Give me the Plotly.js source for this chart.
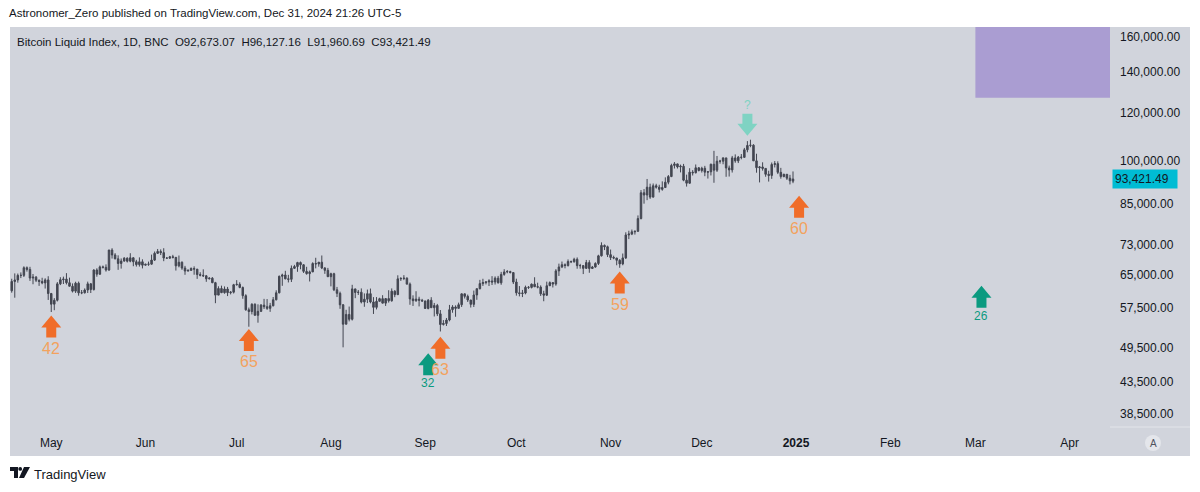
<!DOCTYPE html>
<html><head><meta charset="utf-8">
<script src="https://cdn.plot.ly/plotly-3.0.1.min.js"></script>
<style>html,body{margin:0;padding:0;background:#fff}#chart{width:1200px;height:492px}</style>
</head><body><div id="chart"></div>
<script>
// ---------- DATA (prices in thousands of USD, one candle per day from startDate) ----------
const startDate = '2024-04-18';
const openK = [
  // Apr 18-30
  61.28,63.47,63.82,64.94,64.94,66.84,66.41,64.29,64.50,63.77,63.46,63.12,63.84,
  // May
  60.64,58.25,59.12,62.89,63.89,64.03,63.16,62.33,61.19,63.05,60.79,60.82,61.45,62.90,61.55,66.27,65.23,67.05,66.94,66.27,71.45,70.14,69.12,67.93,68.54,69.29,68.51,69.39,68.36,67.63,68.35,
  // Jun
  67.49,67.71,67.75,68.80,70.57,71.08,70.76,69.34,69.30,69.65,69.51,67.32,68.24,66.76,66.01,66.19,66.64,66.49,65.14,64.96,64.83,64.10,64.25,63.18,60.28,61.80,60.84,61.68,60.84,60.95,
  // Jul
  62.68,62.78,62.04,60.15,57.03,56.66,58.23,55.86,56.70,58.04,57.70,57.34,57.90,59.22,60.80,64.72,65.04,64.09,63.98,66.69,67.14,68.16,67.58,65.93,65.37,65.80,67.91,67.81,68.25,66.78,66.19,
  // Aug
  64.62,65.35,61.50,60.68,58.11,54.02,56.04,55.03,61.71,60.88,60.94,58.72,59.35,60.61,58.74,57.56,58.88,59.48,58.48,59.49,59.01,61.18,60.38,64.09,64.18,64.25,62.83,59.42,59.03,59.37,59.12,
  // Sep
  58.97,57.32,59.13,57.48,57.97,56.16,53.95,54.16,54.87,57.05,57.64,57.34,58.13,60.57,60.00,59.18,58.21,60.31,61.76,62.95,63.20,63.35,63.58,63.34,64.26,63.14,65.18,65.79,65.89,65.63,
  // Oct
  63.33,60.80,60.65,60.75,62.08,62.06,62.82,62.22,62.13,60.58,60.27,62.45,63.19,62.85,66.05,67.04,67.61,67.40,68.42,68.36,69.00,67.37,67.38,66.68,68.16,66.64,67.01,67.93,69.91,72.72,72.34,
  // Nov
  70.22,69.48,69.34,68.75,67.81,69.36,75.64,75.90,76.54,76.70,80.47,88.70,87.95,90.58,87.25,91.07,90.59,89.85,90.46,92.29,94.29,98.32,98.90,97.78,98.02,93.01,91.95,95.86,95.65,97.46,
  // Dec
  96.45,97.28,95.87,96.00,98.77,96.59,99.92,99.92,101.17,97.39,96.68,101.17,100.04,101.46,101.37,104.30,106.03,106.14,100.04,97.49,97.76,97.23,95.10,94.69,98.69,99.00,95.80,94.28,95.10,93.71,92.67307
];
const highK = [
  64.12,65.42,65.39,65.67,67.20,67.17,67.07,65.28,64.79,63.92,64.36,64.23,64.73,
  60.78,59.60,63.32,64.49,64.63,65.49,64.39,62.99,63.40,63.44,61.45,61.83,63.42,63.10,66.45,66.70,67.40,67.39,67.69,71.52,71.95,70.62,70.04,69.22,69.57,69.51,70.61,69.56,68.86,69.50,69.00,
  67.86,68.41,70.23,71.06,71.74,71.63,71.95,69.54,69.89,70.17,69.55,69.99,68.45,67.31,66.40,66.93,67.19,66.49,65.72,66.44,65.04,64.50,64.52,63.37,62.32,62.47,62.29,62.17,61.20,62.89,
  63.78,63.27,62.27,60.48,57.51,58.46,58.45,58.22,58.29,59.43,59.39,58.53,59.85,61.38,64.89,65.36,66.07,65.07,67.41,67.57,68.35,68.43,67.77,67.07,66.13,68.23,69.40,68.31,70.00,66.98,66.80,
  65.59,65.58,62.17,61.08,58.28,57.03,57.73,62.67,61.73,61.46,61.82,60.67,61.55,61.79,59.82,59.83,59.68,60.26,59.61,61.40,61.82,61.41,64.96,64.51,64.99,64.48,63.21,60.23,61.17,59.91,59.43,
  58.99,59.40,59.81,58.52,58.31,56.98,54.85,55.30,58.09,58.04,57.99,58.59,60.65,60.62,60.40,59.19,61.32,61.79,63.85,64.11,63.56,64.00,64.75,64.69,64.81,65.80,66.48,66.26,66.08,65.72,
  64.13,62.37,61.47,62.48,62.37,62.98,64.48,63.17,62.54,61.28,63.42,63.48,63.30,66.48,67.88,68.42,67.94,68.97,68.67,69.40,69.49,67.82,67.47,68.83,68.77,67.29,68.22,70.19,73.56,72.96,72.66,
  71.59,69.95,69.38,69.04,70.52,76.40,76.86,77.20,76.90,81.43,89.60,89.94,93.43,91.79,91.85,91.75,91.42,92.59,94.00,94.83,98.97,99.59,99.00,98.63,98.90,94.97,97.30,96.60,98.69,97.70,
  97.84,98.17,96.28,99.01,103.90,101.90,100.44,101.38,101.19,98.27,101.92,102.52,101.90,102.65,105.05,107.78,108.35,106.52,102.77,98.12,99.50,97.37,96.39,99.42,99.96,99.87,97.43,95.28,95.19,94.90,96.12716
];
const lowK = [
  60.83,59.69,63.17,64.28,64.54,65.87,63.60,62.80,63.32,62.42,62.80,61.79,59.19,
  56.55,56.94,58.85,62.60,62.86,62.75,62.29,60.88,60.77,60.15,60.49,60.63,60.76,60.76,61.33,64.61,65.11,66.64,65.87,66.06,69.19,69.00,66.31,66.62,68.40,68.18,68.23,67.22,67.13,67.13,66.67,
  67.39,67.32,67.61,68.56,70.40,70.12,68.51,69.21,69.10,69.22,66.13,66.94,66.31,65.08,65.89,66.02,65.10,64.09,64.69,64.55,63.38,63.95,63.05,58.47,60.27,60.74,60.60,60.06,60.44,60.65,
  62.48,61.86,59.45,56.83,53.50,56.04,55.79,54.32,56.55,57.21,57.01,56.59,57.77,59.10,60.68,62.43,64.00,63.23,63.33,66.59,65.82,66.45,65.53,65.11,63.46,65.74,66.68,67.10,66.49,65.32,64.53,
  62.30,61.20,59.84,57.24,49.50,53.98,54.59,54.77,59.59,60.31,58.42,57.68,58.50,58.44,56.14,57.11,58.85,58.44,57.86,58.60,58.80,59.81,60.36,63.59,63.79,62.81,58.12,57.86,58.75,57.76,58.74,
  57.20,57.13,57.42,55.61,55.70,52.55,53.74,53.65,54.60,56.40,55.55,57.32,57.64,59.51,58.74,57.52,57.63,59.22,61.59,62.40,62.76,62.38,62.62,62.73,62.98,62.67,64.85,65.45,65.42,62.85,
  60.16,59.99,59.83,60.46,61.70,61.82,62.13,61.84,60.09,58.90,60.07,62.43,62.04,62.45,64.80,66.75,66.69,67.13,68.02,68.14,66.59,66.60,65.26,66.56,65.58,66.58,66.85,67.53,69.73,71.44,69.59,
  68.82,69.02,67.47,66.82,67.47,69.07,74.46,75.60,75.75,76.50,80.22,85.12,86.25,86.67,87.10,90.09,88.80,89.38,90.43,91.57,94.08,97.20,97.20,95.78,92.64,90.79,91.80,94.66,95.40,96.16,
  95.72,94.42,93.58,94.68,92.10,95.94,98.99,98.76,94.20,94.30,95.72,99.33,99.22,100.63,101.23,103.33,105.33,100.00,95.67,92.23,96.43,94.22,92.52,93.47,97.59,95.17,93.53,94.03,93.09,91.53,91.96069
];
const closeK = [
  63.47,63.82,64.94,64.94,66.84,66.41,64.29,64.50,63.77,63.46,63.12,63.84,60.64,
  58.25,59.12,62.89,63.89,64.03,63.16,62.33,61.19,63.05,60.79,60.82,61.45,62.90,61.55,66.27,65.23,67.05,66.94,66.27,71.45,70.14,69.12,67.93,68.54,69.29,68.51,69.39,68.36,67.63,68.35,67.49,
  67.71,67.75,68.80,70.57,71.08,70.76,69.34,69.30,69.65,69.51,67.32,68.24,66.76,66.01,66.19,66.64,66.49,65.14,64.96,64.83,64.10,64.25,63.18,60.28,61.80,60.84,61.68,60.84,60.95,62.68,
  62.78,62.04,60.15,57.03,56.66,58.23,55.86,56.70,58.04,57.70,57.34,57.90,59.22,60.80,64.72,65.04,64.09,63.98,66.69,67.14,68.16,67.58,65.93,65.37,65.80,67.91,67.81,68.25,66.78,66.19,64.62,
  65.35,61.50,60.68,58.11,54.02,56.04,55.03,61.71,60.88,60.94,58.72,59.35,60.61,58.74,57.56,58.88,59.48,58.48,59.49,59.01,61.18,60.38,64.09,64.18,64.25,62.83,59.42,59.03,59.37,59.12,58.97,
  57.32,59.13,57.48,57.97,56.16,53.95,54.16,54.87,57.05,57.64,57.34,58.13,60.57,60.00,59.18,58.21,60.31,61.76,62.95,63.20,63.35,63.58,63.34,64.26,63.14,65.18,65.79,65.89,65.63,63.33,
  60.80,60.65,60.75,62.08,62.06,62.82,62.22,62.13,60.58,60.27,62.45,63.19,62.85,66.05,67.04,67.61,67.40,68.42,68.36,69.00,67.37,67.38,66.68,68.16,66.64,67.01,67.93,69.91,72.72,72.34,70.22,
  69.48,69.34,68.75,67.81,69.36,75.64,75.90,76.54,76.70,80.47,88.70,87.95,90.58,87.25,91.07,90.59,89.85,90.46,92.29,94.29,98.32,98.90,97.78,98.02,93.01,91.95,95.86,95.65,97.46,96.45,
  97.28,95.87,96.00,98.77,96.59,99.92,99.92,101.17,97.39,96.68,101.17,100.04,101.46,101.37,104.30,106.03,106.14,100.04,97.49,97.76,97.23,95.10,94.69,98.69,99.00,95.80,94.28,95.10,93.71,92.79,93.42149
];

const monthTickDates = ['2024-05-01','2024-06-01','2024-07-01','2024-08-01','2024-09-01','2024-10-01','2024-11-01','2024-12-01','2025-01-01','2025-02-01','2025-03-01','2025-04-01'];
const monthTickLabels = ['May','Jun','Jul','Aug','Sep','Oct','Nov','Dec','<b>2025</b>','Feb','Mar','Apr'];
const priceTicks = [38500,43500,49500,57500,65000,73000,85000,100000,120000,140000,160000];

// signal arrows: tip date / tip price / label / kind / direction
const signalDates  = ['2024-05-01','2024-07-05','2024-09-06','2024-09-02','2024-11-04','2025-01-02','2025-03-03','2024-12-16'];
const signalPrices = [55800,53050,51530,48400,65880,87700,62420,110000];
const signalLabels = ['42','65','63','32','59','60','26','?'];
const signalKinds  = ['orange','orange','orange','green','orange','orange','green','mint'];
const signalDirs   = ['up','up','up','up','up','up','up','down'];

// target zone box
const zoneStart = '2025-03-01', zoneEnd = '2025-04-30', zoneLow = 127000, zoneHigh = 175000;

const symbolName = 'Bitcoin Liquid Index, 1D, BNC';
const publishLine = 'Astronomer_Zero published on TradingView.com, Dec 31, 2024 21:26 UTC-5';

// ---------- BUILD ----------
const K = 1000;
const toUSD = a => a.map(v => v * K);
const dates = closeK.map((_, i) => new Date(Date.UTC(2024, 3, 18 + i)).toISOString().slice(0, 10));
const O = toUSD(openK), H = toUSD(highK), L = toUSD(lowK), C = toUSD(closeK);
const fmt = v => v.toLocaleString('en-US', {minimumFractionDigits: 2, maximumFractionDigits: 2});

const FONT = 'Liberation Sans, Arial, sans-serif';
const TXT = '#131722';
const BG = '#d1d4dc';
const candleCol = '#434651';

const palette = {
  orange: {fill: '#f06d29', text: '#f3a25e', size: 16, off: 33},
  green:  {fill: '#0b9a80', text: '#0b9a80', size: 12, off: 30},
  mint:   {fill: '#7fd3c3', text: '#7fd3c3', size: 12, off: 31}
};

const upArrow   = 'M0,0 L10,-12 L5,-12 L5,-22 L-5,-22 L-5,-12 L-10,-12 Z';
const downArrow = 'M0,0 L10,12 L5,12 L5,22 L-5,22 L-5,12 L-10,12 Z';

const trace = {
  type: 'candlestick', x: dates, open: O, high: H, low: L, close: C,
  increasing: {line: {color: candleCol, width: 1}, fillcolor: candleCol},
  decreasing: {line: {color: candleCol, width: 1}, fillcolor: candleCol},
  hoverinfo: 'skip', showlegend: false
};

const shapes = [
  // grey chart frame (plot + price scale + time scale)
  {type: 'rect', xref: 'paper', yref: 'paper', x0: 0, x1: 1180/1100, y0: -29/400, y1: 1,
   fillcolor: BG, line: {width: 0}, layer: 'below'},
  // separator in the price-scale corner
  {type: 'line', xref: 'paper', yref: 'paper', x0: 1.0, x1: 1180/1100, y0: 0, y1: 0,
   line: {color: '#e3e5ea', width: 1}},
  // "A" button
  {type: 'circle', xref: 'paper', yref: 'paper', x0: 1135/1100, x1: 1151/1100, y0: -24/400, y1: -8/400,
   fillcolor: '#e4e6eb', line: {width: 0}},
  // target zone
  {type: 'rect', xref: 'x', yref: 'y', x0: zoneStart, x1: zoneEnd, y0: zoneLow, y1: zoneHigh,
   fillcolor: '#aa9dd2', line: {width: 0}, layer: 'above'}
];

const annotations = [
  {xref: 'paper', yref: 'paper', x: 0, y: (427 - 13) / 400, xanchor: 'left', yanchor: 'middle', xshift: -3,
   text: publishLine, showarrow: false, font: {family: FONT, size: 11.5, color: TXT}},
  {xref: 'paper', yref: 'paper', x: 0, y: (427 - 42) / 400, xanchor: 'left', yanchor: 'middle', xshift: 5,
   text: symbolName + '\u00a0\u00a0O' + fmt(O[O.length-1]) + '\u00a0\u00a0H' + fmt(H[H.length-1]) +
         '\u00a0\u00a0L' + fmt(L[L.length-1]) + '\u00a0\u00a0C' + fmt(C[C.length-1]),
   showarrow: false, font: {family: FONT, size: 11.5, color: TXT}},
  // last price label
  {xref: 'paper', yref: 'y', x: 1, y: Math.log10(C[C.length-1]), xanchor: 'left', yanchor: 'middle', xshift: 2,
   text: fmt(C[C.length-1]), showarrow: false, bgcolor: '#00bcd4', borderpad: 2, width: 60, height: 14, align: 'left',
   font: {family: FONT, size: 12, color: TXT}},
  // A button letter
  {xref: 'paper', yref: 'paper', x: 1143/1100, y: -16/400, xanchor: 'center', yanchor: 'middle',
   text: 'A', showarrow: false, font: {family: FONT, size: 10, color: '#50535e'}},
  // footer brand
  {xref: 'paper', yref: 'paper', x: 0, y: (427 - 474) / 400, xanchor: 'left', yanchor: 'middle', xshift: 22,
   text: 'TradingView', showarrow: false, font: {family: FONT, size: 13, color: TXT}}
];

// footer logo pieces
shapes.push(
  {type: 'path', xref: 'paper', yref: 'paper', xsizemode: 'pixel', ysizemode: 'pixel', xanchor: 0, yanchor: 0,
   path: 'M0,-40 H8 V-51 H4 V-44 H0 Z', fillcolor: TXT, line: {width: 0}},
  {type: 'circle', xref: 'paper', yref: 'paper', xsizemode: 'pixel', ysizemode: 'pixel', xanchor: 0, yanchor: 0,
   x0: 8.3, x1: 12.1, y0: -40, y1: -43.8, fillcolor: TXT, line: {width: 0}},
  {type: 'path', xref: 'paper', yref: 'paper', xsizemode: 'pixel', ysizemode: 'pixel', xanchor: 0, yanchor: 0,
   path: 'M14,-40 H20 L14,-51 H9 Z', fillcolor: TXT, line: {width: 0}}
);

// signal arrows + labels
signalDates.forEach((d, i) => {
  const p = palette[signalKinds[i]];
  const up = signalDirs[i] === 'up';
  shapes.push({type: 'path', xref: 'x', yref: 'y', xsizemode: 'pixel', ysizemode: 'pixel',
    xanchor: d, yanchor: signalPrices[i], path: up ? upArrow : downArrow,
    fillcolor: p.fill, line: {width: 0}, layer: 'above'});
  annotations.push({xref: 'x', yref: 'y', x: d, y: Math.log10(signalPrices[i]),
    yshift: up ? -p.off : p.off, xanchor: 'center', yanchor: 'middle', showarrow: false,
    text: signalLabels[i], font: {family: FONT, size: p.size, color: p.text}});
});

const layout = {
  width: 1200, height: 492,
  margin: {l: 10, r: 90, t: 27, b: 65, pad: 0},
  paper_bgcolor: '#ffffff', plot_bgcolor: BG,
  showlegend: false,
  xaxis: {
    type: 'date', range: ['2024-04-17 10:20', '2025-04-14 06:43'],
    tickmode: 'array', tickvals: monthTickDates, ticktext: monthTickLabels,
    showgrid: false, zeroline: false, showline: false, ticks: '',
    ticklabelstandoff: 7, tickfont: {family: FONT, size: 12, color: TXT},
    rangeslider: {visible: false}, fixedrange: true
  },
  yaxis: {
    type: 'log', side: 'right', range: [4.56402, 5.21956],
    tickmode: 'array', tickvals: priceTicks, ticktext: priceTicks.map(fmt),
    showgrid: false, zeroline: false, showline: false, ticks: '',
    ticklabelstandoff: 9, tickfont: {family: FONT, size: 12, color: TXT}, fixedrange: true
  },
  shapes: shapes, annotations: annotations
};

Plotly.newPlot('chart', [trace], layout, {staticPlot: true, displayModeBar: false});
</script></body></html>
